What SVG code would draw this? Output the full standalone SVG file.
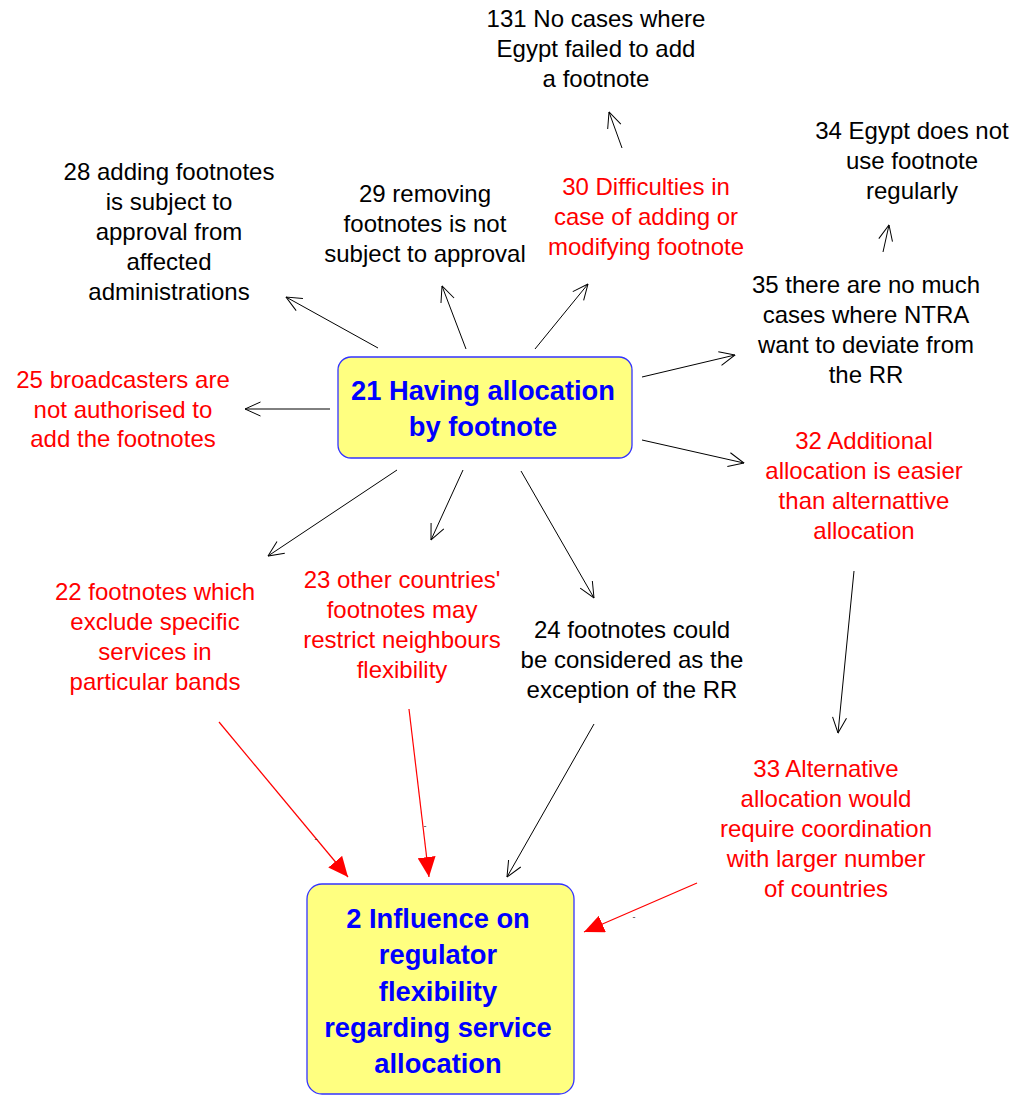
<svg xmlns="http://www.w3.org/2000/svg" width="1016" height="1096" viewBox="0 0 1016 1096">
  <style>
    .t { font-family: "Liberation Sans", Arial, sans-serif; font-size: 24px; text-anchor: middle; }
    .blk { fill: #000000; }
    .red { fill: #ff0000; }
    .core { font-family: "Liberation Sans", Arial, sans-serif; font-size: 27.3px; font-weight: bold; fill: #0000ff; text-anchor: middle; }
    .box { fill: #ffff80; stroke: #3333ff; stroke-width: 1.3; }
    .lk { fill: none; stroke: #000000; stroke-width: 1; marker-end: url(#open); }
    .lkr { fill: none; stroke: #ff0000; stroke-width: 1.2; marker-end: url(#solid); }
    .sign { font-family: "Liberation Sans", Arial, sans-serif; font-size: 9px; fill: #333333; text-anchor: middle; }
  </style>
  <defs>
    <marker id="open" viewBox="0 0 17 16" refX="16.5" refY="8" markerWidth="17" markerHeight="16" markerUnits="userSpaceOnUse" orient="auto">
      <path d="M1,1 L16.5,8 L1,15" fill="none" stroke="#000000" stroke-width="1"/>
    </marker>
    <marker id="solid" viewBox="0 0 20 18" refX="20" refY="9" markerWidth="20" markerHeight="18" markerUnits="userSpaceOnUse" orient="auto">
      <path d="M0,0 L20,9 L0,18 z" fill="#ff0000"/>
    </marker>
  </defs>

  <!-- links -->
  <g id="connectors">
    <line class="lk" x1="378" y1="348" x2="286" y2="297"/>
    <line class="lk" x1="466" y1="349" x2="442" y2="286"/>
    <line class="lk" x1="535" y1="349" x2="588" y2="284"/>
    <line class="lk" x1="642" y1="377" x2="735" y2="355"/>
    <line class="lk" x1="642" y1="440" x2="744" y2="463"/>
    <line class="lk" x1="330" y1="409" x2="245" y2="409"/>
    <line class="lk" x1="397" y1="470" x2="268" y2="556"/>
    <line class="lk" x1="463" y1="470" x2="431" y2="540"/>
    <line class="lk" x1="521" y1="471" x2="594" y2="598"/>
    <line class="lk" x1="622" y1="148" x2="609" y2="112"/>
    <line class="lk" x1="883" y1="252" x2="889" y2="225"/>
    <line class="lk" x1="854" y1="571" x2="838" y2="733"/>
    <line class="lk" x1="594" y1="724" x2="507" y2="877"/>
    <line class="lkr" x1="219" y1="722" x2="348" y2="877"/>
    <line class="lkr" x1="409" y1="709" x2="429" y2="877"/>
    <line class="lkr" x1="697" y1="883" x2="584" y2="932"/>
    <text class="sign" x="316" y="842">-</text>
    <text class="sign" x="425" y="829">-</text>
    <text class="sign" x="634" y="920">-</text>
  </g>

  <!-- central concept -->
  <g id="n21">
    <rect class="box" x="338" y="357" width="294" height="101" rx="13"/>
    <text class="core" x="483" y="400">21 Having allocation</text>
    <text class="core" x="483" y="436">by footnote</text>
  </g>

  <!-- outcome concept -->
  <g id="n2">
    <rect class="box" x="307" y="884" width="267" height="210" rx="15"/>
    <text class="core" x="438" y="928">2 Influence on</text>
    <text class="core" x="438" y="964">regulator</text>
    <text class="core" x="438" y="1001">flexibility</text>
    <text class="core" x="438" y="1037">regarding service</text>
    <text class="core" x="438" y="1073">allocation</text>
  </g>

  <g id="n131" class="t blk">
    <text x="596" y="27">131 No cases where</text>
    <text x="596" y="57">Egypt failed to add</text>
    <text x="596" y="87">a footnote</text>
  </g>

  <g id="n28" class="t blk">
    <text x="169" y="180">28 adding footnotes</text>
    <text x="169" y="210">is subject to</text>
    <text x="169" y="240">approval from</text>
    <text x="169" y="270">affected</text>
    <text x="169" y="300">administrations</text>
  </g>

  <g id="n29" class="t blk">
    <text x="425" y="202">29 removing</text>
    <text x="425" y="232">footnotes is not</text>
    <text x="425" y="262">subject to approval</text>
  </g>

  <g id="n30" class="t red">
    <text x="646" y="195">30 Difficulties in</text>
    <text x="646" y="225">case of adding or</text>
    <text x="646" y="255">modifying footnote</text>
  </g>

  <g id="n34" class="t blk">
    <text x="912" y="139">34 Egypt does not</text>
    <text x="912" y="169">use footnote</text>
    <text x="912" y="199">regularly</text>
  </g>

  <g id="n35" class="t blk">
    <text x="866" y="293">35 there are no much</text>
    <text x="866" y="323">cases where NTRA</text>
    <text x="866" y="353">want to deviate from</text>
    <text x="866" y="383">the RR</text>
  </g>

  <g id="n25" class="t red">
    <text x="123" y="388">25 broadcasters are</text>
    <text x="123" y="418">not authorised to</text>
    <text x="123" y="447">add the footnotes</text>
  </g>

  <g id="n32" class="t red">
    <text x="864" y="449">32 Additional</text>
    <text x="864" y="479">allocation is easier</text>
    <text x="864" y="509">than alternattive</text>
    <text x="864" y="539">allocation</text>
  </g>

  <g id="n22" class="t red">
    <text x="155" y="600">22 footnotes which</text>
    <text x="155" y="630">exclude specific</text>
    <text x="155" y="660">services in</text>
    <text x="155" y="690">particular bands</text>
  </g>

  <g id="n23" class="t red">
    <text x="402" y="588">23 other countries'</text>
    <text x="402" y="618">footnotes may</text>
    <text x="402" y="648">restrict neighbours</text>
    <text x="402" y="678">flexibility</text>
  </g>

  <g id="n24" class="t blk">
    <text x="632" y="638">24 footnotes could</text>
    <text x="632" y="668">be considered as the</text>
    <text x="632" y="698">exception of the RR</text>
  </g>

  <g id="n33" class="t red">
    <text x="826" y="777">33 Alternative</text>
    <text x="826" y="807">allocation would</text>
    <text x="826" y="837">require coordination</text>
    <text x="826" y="867">with larger number</text>
    <text x="826" y="897">of countries</text>
  </g>
</svg>
